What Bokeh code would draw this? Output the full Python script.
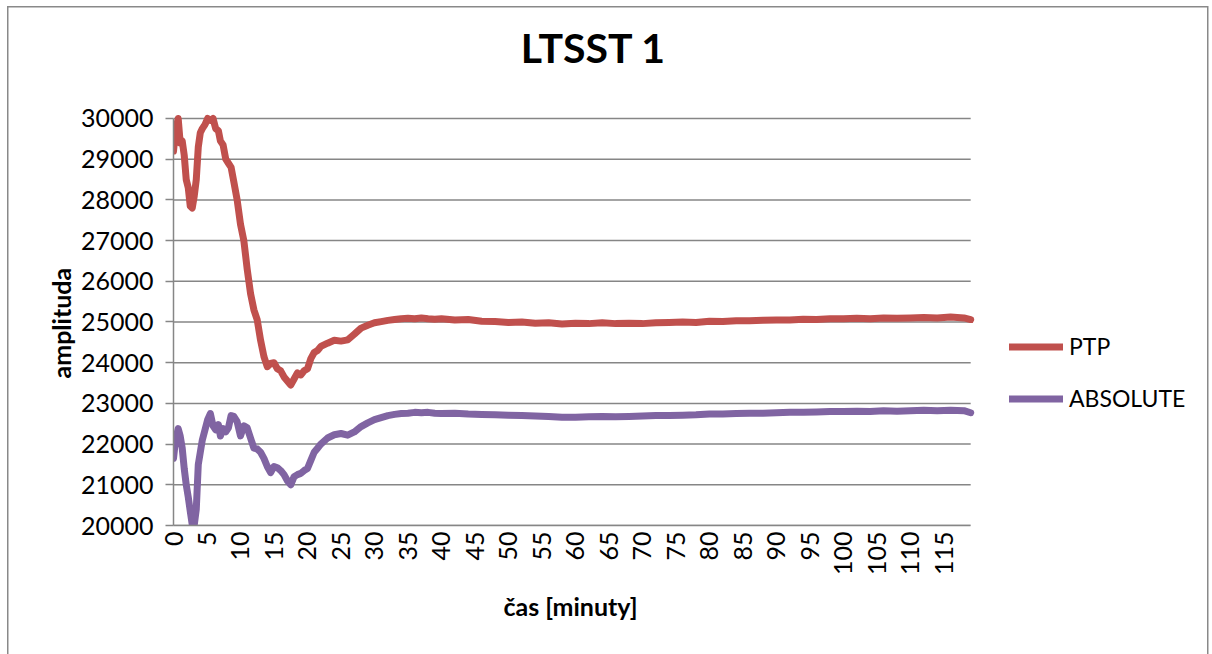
from bokeh.plotting import figure
from bokeh.models import (Range1d, FixedTicker, Legend, LegendItem, Label,
                          Title, ColumnDataSource)
from bokeh.embed import file_html
from bokeh.resources import INLINE
import math

# time in minutes
minutes = [0, 0.3, 0.7, 1.0, 1.3, 1.6, 1.9, 2.2, 2.5, 2.8, 3.1, 3.4, 3.7, 4.0,
           4.3, 4.7, 5.1, 5.5, 5.9, 6.3, 6.7, 7.0, 7.4, 7.8, 8.2, 8.6, 9.0,
           9.5, 10.0, 10.5, 11.0, 11.5, 12.0, 12.5, 13.0, 13.5, 14.0, 14.5,
           15.0, 15.5, 16.0, 16.5, 17.0, 17.5, 18.0, 18.5, 19.0, 19.5, 20.0,
           20.5, 21.0, 21.5, 22.0, 23, 24, 25, 26, 27, 28, 29, 30, 31, 32,
           33, 34, 35, 36, 37, 38, 39, 40, 42, 44, 46, 48, 50, 52, 54, 56,
           58, 60, 62, 64, 66, 68, 70, 72, 74, 76, 78, 80, 82, 84, 86, 88,
           90, 92, 94, 96, 98, 100, 102, 104, 106, 108, 110, 112, 114, 116,
           118, 119]

ptp = [29200, 29700, 30000, 29400, 29450, 29100, 28500, 28300, 27850, 27800,
       28100, 28500, 29300, 29650, 29750, 29850, 30000, 29950, 30000, 29750,
       29700, 29450, 29350, 29000, 28900, 28800, 28450, 28000, 27400, 27000,
       26300, 25700, 25300, 25050, 24550, 24150, 23900, 23980, 24000, 23850,
       23800, 23650, 23550, 23450, 23600, 23750, 23700, 23800, 23850, 24100,
       24250, 24300, 24400, 24480, 24550, 24530, 24560, 24700, 24850, 24920,
       24980, 25010, 25040, 25060, 25080, 25090, 25080, 25100, 25080, 25070,
       25080, 25050, 25060, 25020, 25010, 24990, 25000, 24970, 24980, 24950,
       24970, 24960, 24980, 24960, 24970, 24960, 24980, 24990, 25000, 24990,
       25020, 25010, 25030, 25030, 25040, 25050, 25050, 25070, 25060, 25080,
       25080, 25090, 25080, 25100, 25090, 25100, 25110, 25100, 25120, 25100,
       25060]

absolute = [21650, 22100, 22380, 22200, 21900, 21400, 21000, 20700, 20350,
            20020, 20020, 20400, 21500, 21800, 22100, 22350, 22600, 22750,
            22450, 22350, 22480, 22200, 22380, 22300, 22400, 22700, 22680,
            22550, 22200, 22450, 22400, 22150, 21900, 21880, 21800, 21650,
            21450, 21300, 21450, 21420, 21350, 21250, 21100, 21000, 21200,
            21250, 21280, 21350, 21400, 21600, 21800, 21900, 22000, 22150,
            22230, 22260, 22220, 22300, 22430, 22520, 22600, 22650, 22700,
            22730, 22750, 22760, 22780, 22770, 22780, 22760, 22750, 22760,
            22740, 22730, 22720, 22710, 22700, 22690, 22680, 22660, 22660,
            22670, 22680, 22670, 22680, 22690, 22700, 22700, 22710, 22720,
            22740, 22740, 22750, 22760, 22760, 22770, 22780, 22780, 22790,
            22800, 22800, 22810, 22800, 22820, 22810, 22820, 22830, 22820,
            22830, 22820, 22770]

x_ticks = list(range(0, 120, 5))
y_ticks = list(range(20000, 30001, 1000))
x_min, x_max = 0, 119
y_min, y_max = 20000, 30000

series_names = ["PTP", "ABSOLUTE"]
series_colors = ["#C0504D", "#8064A2"]

FONT = "Lato"
GRID = "#868686"
EDGE = "#898989"

# The data frame is widened to the right and upward so the title and the
# legend can sit inside it; axes and gridlines are bounded to the data area.
p = figure(width=1212, height=654, output_backend="svg", toolbar_location=None,
           x_range=Range1d(x_min, 154.5), y_range=Range1d(y_min, 32776),
           min_border_left=173, min_border_right=4, min_border_top=5,
           min_border_bottom=129)
p.outline_line_color = None
p.background_fill_alpha = 0
p.border_fill_alpha = 0
p.xgrid.grid_line_color = None
p.ygrid.grid_line_color = None

# white page with a thin grey frame (left, top and right edges)
line = f"linear-gradient({EDGE}, {EDGE})"
p.styles = {
    "background": (f"{line} 7px 6px / 1.5px 100% no-repeat, "
                   f"{line} 7px 6px / 1201px 1.5px no-repeat, "
                   f"{line} 1207px 6px / 1.5px 100% no-repeat, white"),
}

# horizontal gridlines across the data area
p.segment(x0=[x_min] * len(y_ticks), x1=[x_max] * len(y_ticks), y0=y_ticks,
          y1=y_ticks, line_color=GRID, line_width=1.5)

src = ColumnDataSource(dict(t=minutes, ptp=ptp, absolute=absolute))
r_ptp = p.line("t", "ptp", source=src, line_color=series_colors[0], line_width=7,
               line_cap="round", line_join="round")
r_abs = p.line("t", "absolute", source=src, line_color=series_colors[1], line_width=7,
               line_cap="round", line_join="round")

# y axis
ya = p.yaxis[0]
ya.bounds = (y_min, y_max)
ya.ticker = FixedTicker(ticks=y_ticks)
ya.axis_line_color = GRID
ya.axis_line_width = 1.5
ya.major_tick_line_color = GRID
ya.major_tick_line_width = 1.5
ya.major_tick_out = 8
ya.major_tick_in = 0
ya.minor_tick_line_color = None
ya.major_label_text_font = FONT
ya.major_label_text_font_size = "25px"
ya.major_label_text_color = "black"
ya.major_label_standoff = 12

# x axis
xa = p.xaxis[0]
xa.bounds = (x_min, x_max)
xa.ticker = FixedTicker(ticks=x_ticks)
xa.axis_line_color = GRID
xa.axis_line_width = 1.5
xa.major_tick_line_color = None
xa.major_tick_out = 0
xa.major_tick_in = 0
xa.minor_tick_line_color = None
xa.major_label_orientation = math.pi / 2
xa.major_label_text_font = FONT
xa.major_label_text_font_size = "25px"
xa.major_label_text_color = "black"
xa.major_label_standoff = 6

# axis titles, placed along the data area rather than the widened frame
p.add_layout(Title(text="amplituda", align="left", offset=147, standoff=3,
                   text_font=FONT, text_font_style="bold", text_font_size="25px",
                   text_color="black"), "left")
p.add_layout(Title(text="čas [minuty]", align="left", offset=330, standoff=20,
                   text_font=FONT, text_font_style="bold", text_font_size="25px",
                   text_color="black"), "below")

# chart title
p.add_layout(Label(x=62.7, y=31744, text="LTSST 1", text_align="center",
                   text_baseline="alphabetic", text_font=FONT,
                   text_font_style="bold", text_font_size="41px",
                   text_color="black"))

# legend
legend = Legend(items=[LegendItem(label=series_names[0], renderers=[r_ptp]),
                       LegendItem(label=series_names[1], renderers=[r_abs])],
                location=(836, 113), padding=0, margin=0, spacing=24,
                glyph_width=54, glyph_height=25, label_height=25,
                label_standoff=6, label_text_font=FONT,
                label_text_font_size="23px", label_text_color="black",
                border_line_color=None, background_fill_alpha=0)
p.add_layout(legend)

open("out.html", "w").write(file_html(p, INLINE))
